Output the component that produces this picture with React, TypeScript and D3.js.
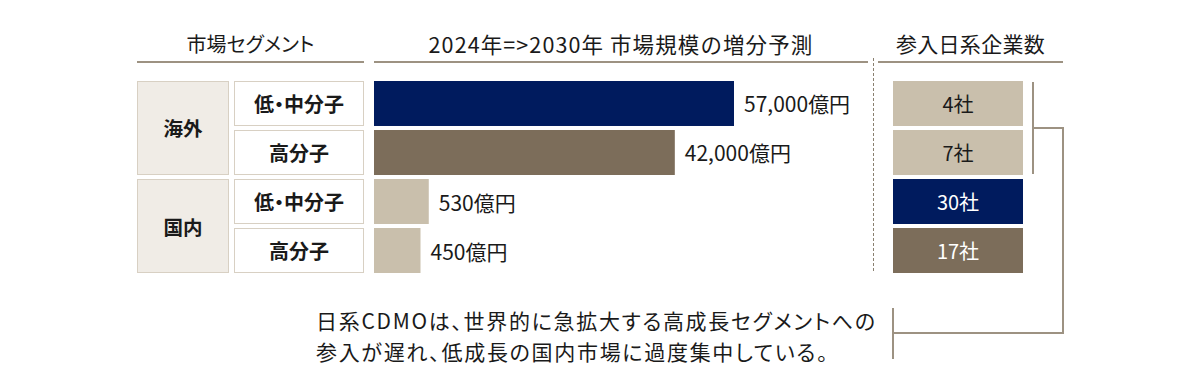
import * as d3 from "d3";

const regions = ["海外", "国内"];
const segments = ["低・中分子", "高分子", "低・中分子", "高分子"];
const segmentRegion = ["海外", "海外", "国内", "国内"];
const marketGrowth = [57000, 42000, 530, 450]; // 億円
const companyCounts = [4, 7, 30, 17];
const headers = ["市場セグメント", "2024年=>2030年 市場規模の増分予測", "参入日系企業数"];
const noteLines = [
  "日系CDMOは、世界的に急拡大する高成長セグメントへの",
  "参入が遅れ、低成長の国内市場に過度集中している。",
];

const NAVY = "#001b5e";
const BROWN = "#7c6d5a";
const BEIGE = "#c9bfac";
const LINE = "#9d9282";
const FONT = "'Noto Sans CJK JP', 'Noto Sans', sans-serif";

const barFill = [NAVY, BROWN, BEIGE, BEIGE];
const countFill = [BEIGE, BEIGE, NAVY, BROWN];
const countText = ["#1a1a1a", "#1a1a1a", "#fff", "#fff"];

export default function App() {
  const width = 1200;
  const height = 390;

  const y = d3
    .scaleBand<number>()
    .domain(d3.range(segments.length))
    .range([81, 273])
    .paddingInner(0.082);
  const bh = y.bandwidth();

  // compressed scale: the small domestic values are stretched so they stay visible
  const x = d3
    .scaleLinear()
    .domain([0, 600, 20000, 57000])
    .range([0, 62, 214, 360]);

  const barX = 374;
  const boxX = 893;
  const boxW = 130;

  const palt = { fontFeatureSettings: "'palt'" } as React.CSSProperties;

  const headerCfg = [
    { x0: 137, x1: 364, size: 20, ls: 0, style: palt },
    { x0: 374, x1: 868, size: 21.5, ls: 1.1, style: {} },
    { x0: 878, x1: 1063, size: 21, ls: 0.3, style: {} },
  ];

  return (
    <svg width={width} height={height} style={{ display: "block", position: "absolute", left: 0, top: 0 }} fontFamily={FONT}>
      <rect width={width} height={height} fill="#fff" />

      {/* headers */}
      {headers.map((t, i) => {
        const h = headerCfg[i];
        return (
          <g key={i}>
            <text x={(h.x0 + h.x1) / 2} y={43} textAnchor="middle" dominantBaseline="central" fontSize={h.size} letterSpacing={h.ls} fill="#1a1a1a" style={h.style}>
              {t}
            </text>
            <line x1={h.x0} x2={h.x1} y1={62} y2={62} stroke={LINE} strokeWidth={2} />
          </g>
        );
      })}

      {/* dotted divider */}
      <line x1={873.5} x2={873.5} y1={58} y2={273} stroke="#8a8070" strokeWidth={1} strokeDasharray="3,2" />

      {/* region boxes */}
      {regions.map((r) => {
        const idx = d3.range(segments.length).filter((i) => segmentRegion[i] === r);
        const top = y(idx[0])!;
        const bottom = y(idx[idx.length - 1])! + bh;
        return (
          <g key={r}>
            <rect x={137.5} y={top + 0.5} width={91} height={bottom - top - 1} fill="#f0ece6" stroke="#d8d0c3" />
            <text x={183} y={(top + bottom) / 2} textAnchor="middle" dominantBaseline="central" fontSize={19.5} fontWeight="bold" fill="#1a1a1a" style={palt}>
              {r}
            </text>
          </g>
        );
      })}

      {segments.map((s, i) => {
        const top = y(i)!;
        const w = x(marketGrowth[i]);
        return (
          <g key={i}>
            <rect x={234.5} y={top + 0.5} width={129} height={bh - 1} fill="#fff" stroke="#d8d0c3" />
            <text x={299} y={top + bh / 2} textAnchor="middle" dominantBaseline="central" fontSize={20} fontWeight="bold" fill="#1a1a1a" style={palt}>
              {s}
            </text>

            <rect x={barX} y={top} width={w} height={bh} fill={barFill[i]} />
            <text x={barX + w + 10} y={top + bh / 2} dominantBaseline="central" fontSize={21} fill="#1a1a1a" style={palt}>
              {d3.format(",")(marketGrowth[i])}億円
            </text>

            <rect x={boxX} y={top} width={boxW} height={bh} fill={countFill[i]} />
            <text x={boxX + boxW / 2} y={top + bh / 2} textAnchor="middle" dominantBaseline="central" fontSize={20} fill={countText[i]} style={palt}>
              {companyCounts[i]}社
            </text>
          </g>
        );
      })}

      {/* bracket linking overseas counts to the note */}
      <path d="M1033,82V174 M1033,128H1063V333H893 M893,308V359" fill="none" stroke={LINE} strokeWidth={2} />

      {noteLines.map((t, i) => (
        <text key={i} x={316} y={320 + i * 31} dominantBaseline="central" fontSize={21} letterSpacing={1.7} fill="#1a1a1a" style={palt}>
          {t}
        </text>
      ))}
    </svg>
  );
}
